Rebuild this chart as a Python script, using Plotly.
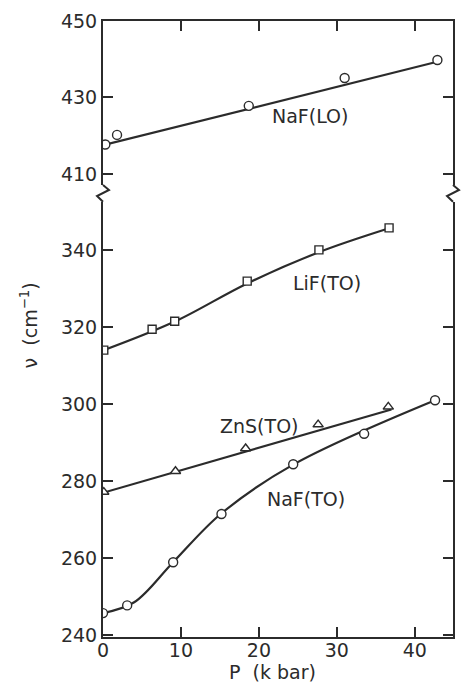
import plotly.graph_objects as go

# ---------------- data ----------------
# NaF(LO) - circles, upper panel
naf_lo_p = [0.3, 1.8, 18.7, 31.0, 42.9]
naf_lo_v = [417.7, 420.2, 427.8, 435.1, 439.8]
naf_lo_fit_p = [0.0, 43.0]
naf_lo_fit_v = [417.5, 439.4]

# LiF(TO) - squares
lif_p = [0.1, 6.3, 9.2, 18.5, 27.7, 36.7]
lif_v = [314.0, 319.4, 321.5, 331.9, 340.0, 345.7]
lif_fit_p = [0.0, 9.2, 18.5, 27.7, 36.7]
lif_fit_v = [313.9, 321.4, 331.3, 339.4, 345.6]

# ZnS(TO) - triangles
zns_p = [0.1, 9.3, 18.3, 27.6, 36.6]
zns_v = [277.2, 282.6, 288.5, 294.7, 299.3]
zns_fit_p = [0.0, 37.0]
zns_fit_v = [277.0, 298.6]

# NaF(TO) - circles
naf_to_p = [0.0, 3.1, 9.0, 15.2, 24.4, 33.5, 42.6]
naf_to_v = [245.8, 247.8, 259.0, 271.5, 284.4, 292.3, 301.0]
naf_to_fit_p = [0.0, 4.0, 9.0, 15.1, 24.4, 42.6]
naf_to_fit_v = [245.8, 248.6, 259.0, 271.5, 284.3, 301.0]

x_ticks = [0, 10, 20, 30, 40]
y_ticks_low = [240, 260, 280, 300, 320, 340]
y_ticks_high = [410, 430, 450]

curve_labels = ["NaF(LO)", "LiF(TO)", "ZnS(TO)", "NaF(TO)"]
label_pos_p = [26.5, 28.7, 20.1, 26.1]
label_pos_v = [425.1, 331.5, 294.2, 275.5]
label_axis = ["y2", "y", "y", "y"]

# ---------------- styling / layout ----------------
INK = "#2b2b2b"
FONT = "DejaVu Sans"
W, H = 462, 683
ML, MR, MT, MB = 103, 7, 21, 46
PW = W - ML - MR
PH = H - MT - MB
BOTTOM_PX = H - MB

def px_to_paper(px, py):
    return (px - ML) / PW, (BOTTOM_PX - py) / PH

low_top_px = 201.7
high_bot_px = 185.0
low_dom_top = (BOTTOM_PX - low_top_px) / PH
high_dom_bot = (BOTTOM_PX - high_bot_px) / PH

fig = go.Figure()

line_style = dict(color=INK, width=2.2)
mk_line = dict(color=INK, width=1.4)

# fit curves
fig.add_trace(go.Scatter(x=naf_lo_fit_p, y=naf_lo_fit_v, mode="lines", line=line_style,
                         xaxis="x2", yaxis="y2", hoverinfo="skip"))
fig.add_trace(go.Scatter(x=lif_fit_p, y=lif_fit_v, mode="lines",
                         line=dict(color=INK, width=2.2, shape="spline", smoothing=1.0), hoverinfo="skip"))
fig.add_trace(go.Scatter(x=zns_fit_p, y=zns_fit_v, mode="lines", line=line_style, hoverinfo="skip"))
fig.add_trace(go.Scatter(x=naf_to_fit_p, y=naf_to_fit_v, mode="lines",
                         line=dict(color=INK, width=2.2, shape="spline", smoothing=1.0), hoverinfo="skip"))

# markers
fig.add_trace(go.Scatter(x=naf_lo_p, y=naf_lo_v, mode="markers", xaxis="x2", yaxis="y2",
                         marker=dict(symbol="circle", size=9, color="white", line=mk_line)))
fig.add_trace(go.Scatter(x=lif_p, y=lif_v, mode="markers",
                         marker=dict(symbol="square", size=8, color="white", line=mk_line)))
fig.add_trace(go.Scatter(x=zns_p, y=zns_v, mode="markers",
                         marker=dict(symbol="triangle-up", size=9, color="white", line=mk_line)))
fig.add_trace(go.Scatter(x=naf_to_p, y=naf_to_v, mode="markers",
                         marker=dict(symbol="circle", size=9, color="white", line=mk_line)))

axis_common = dict(showline=True, linecolor=INK, linewidth=2, ticks="inside", ticklen=10,
                   tickwidth=1.6, tickcolor=INK, showgrid=False, zeroline=False,
                   tickfont=dict(family=FONT, size=19, color=INK))

fig.update_layout(
    width=W, height=H,
    margin=dict(l=ML, r=MR, t=MT, b=MB),
    paper_bgcolor="white", plot_bgcolor="white",
    showlegend=False,
    xaxis=dict(range=[0, 44.9], tickvals=x_ticks, anchor="y", domain=[0, 1],
               ticklabelstandoff=-5, **axis_common),
    xaxis2=dict(range=[0, 44.9], tickvals=x_ticks, anchor="y2", side="top", matches="x",
                showticklabels=False, domain=[0, 1], **axis_common),
    yaxis=dict(range=[239.6, 352.5], tickvals=y_ticks_low, domain=[0, low_dom_top],
               mirror="ticks", anchor="x", **axis_common),
    yaxis2=dict(range=[407.1, 450], tickvals=y_ticks_high, domain=[high_dom_bot, 1],
                mirror="ticks", anchor="x2", **axis_common),
)

# curve labels
for t, xp, yp, ya in zip(curve_labels, label_pos_p, label_pos_v, label_axis):
    fig.add_annotation(x=xp, y=yp, xref="x" if ya == "y" else "x2", yref=ya, text=t,
                       showarrow=False, font=dict(family=FONT, size=19, color=INK))

# axis titles
tx, ty = px_to_paper(273, 672)
fig.add_annotation(x=tx, y=ty, xref="paper", yref="paper", text="P  (k bar)", showarrow=False,
                   font=dict(family=FONT, size=19, color=INK), xanchor="center", yanchor="middle")
tx, ty = px_to_paper(29, 325)
fig.add_annotation(x=tx, y=ty, xref="paper", yref="paper", text="ν  (cm<sup>−1</sup>)",
                   showarrow=False, textangle=-90,
                   font=dict(family=FONT, size=19, color=INK), xanchor="center", yanchor="middle")

# axis-break zigzags
def zigzag(points):
    pts = [px_to_paper(a, b) for a, b in points]
    d = "M " + " L ".join(f"{a:.5f},{b:.5f}" for a, b in pts)
    fig.add_shape(type="path", path=d, xref="paper", yref="paper",
                  line=dict(color=INK, width=2), layer="above")

zigzag([(ML, high_bot_px), (ML + 6, 190), (ML - 6, 196), (ML, low_top_px)])
zigzag([(ML + PW, high_bot_px), (ML + PW + 6, 190), (ML + PW - 6, 196), (ML + PW, low_top_px)])

fig.write_html("out.html", config={"displayModeBar": False},
               post_script="document.body.style.margin='0';document.body.style.overflow='hidden';")
